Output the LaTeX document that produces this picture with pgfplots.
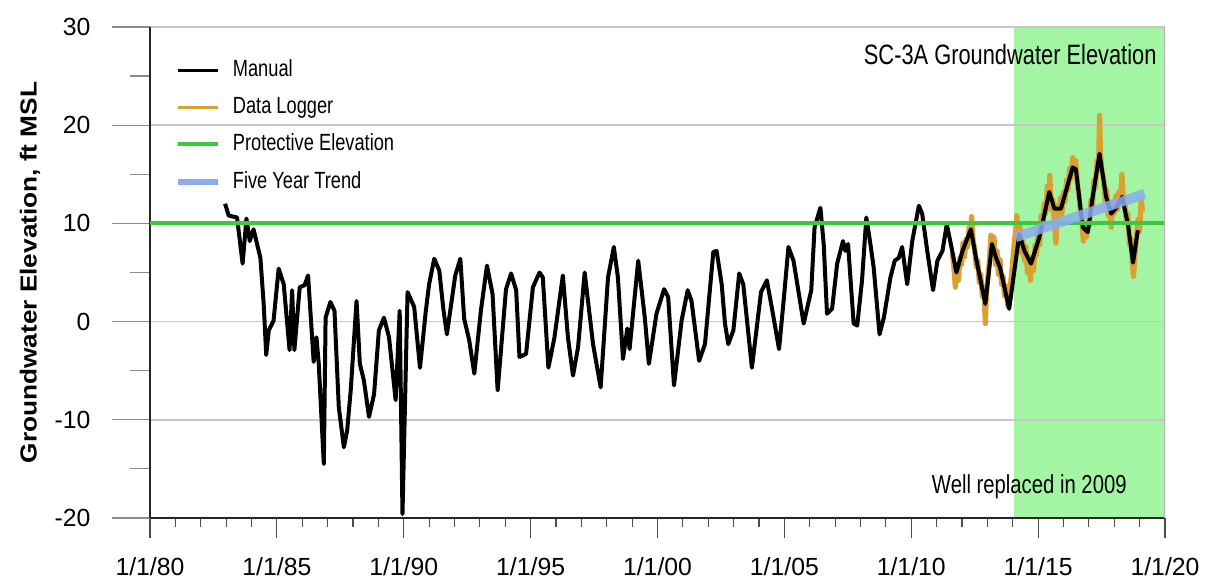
\documentclass[border=0pt]{standalone}
\usepackage{pgfplots}
\pgfplotsset{compat=1.18}
\usepackage{fontspec}
\setmainfont{Liberation Sans}
\newfontfamily\narrowfont{Liberation Sans}[FakeStretch=0.78]
\newfontfamily\ylabfont{Liberation Sans}[FakeStretch=1.13]
\definecolor{regiongreen}{RGB}{163,245,163}
\definecolor{protgreen}{RGB}{60,200,60}
\definecolor{loggerorange}{RGB}{218,160,50}
\definecolor{trendblue}{RGB}{140,170,240}
\begin{document}
\begin{tikzpicture}
\begin{axis}[
  set layers,
  at={(0,0)}, anchor=south west,
  scale only axis, width=507.5pt, height=245.5pt,
  xmin=1980, xmax=2020, ymin=-20, ymax=30,
  axis x line*=bottom, axis y line*=left,
  axis line style={black!85, line width=0.6pt},
  xtick={1980,1985,...,2020},
  xticklabels={1/1/80,1/1/85,1/1/90,1/1/95,1/1/00,1/1/05,1/1/10,1/1/15,1/1/20},
  minor x tick num=4,
  ytick={-20,-10,...,30},
  minor y tick num=1,
  tick align=outside,
  xtick style={/pgfplots/major tick length=10pt, /pgfplots/minor tick length=4.5pt, black!70, line width=0.6pt},
  ytick style={/pgfplots/major tick length=19pt, /pgfplots/minor tick length=10pt, black!45, line width=0.6pt},
  ymajorgrids, major grid style={black!22, line width=0.8pt},
  ticklabel style={font=\fontsize{12.4}{14}\selectfont},
  xticklabel style={yshift=-12pt},
  yticklabel style={anchor=east, xshift=-22pt},
  /pgf/number format/assume math mode=true,
  ylabel={Groundwater Elevation, ft MSL},
  every axis y label/.style={at={(rel axis cs:-0.1182,0.5)}, rotate=90, anchor=center, font=\ylabfont\bfseries\fontsize{11.6}{13}\selectfont},
  legend style={at={(0.0245,0.936)}, anchor=north west, draw=none, fill=none, inner sep=0pt, outer sep=0pt,
    font=\narrowfont\fontsize{11.7}{13}\selectfont, row sep=7pt, column sep=6pt,
    nodes={inner sep=0pt, text height=9pt, text depth=2.6pt}},
  legend cell align=left,
  legend image code/.code={\draw[#1] (0pt,0pt) -- (20pt,0pt);},
]
\addlegendimage{black, line width=1.5pt}
\addlegendentry{Manual}
\addlegendimage{loggerorange, line width=1.5pt}
\addlegendentry{Data Logger}
\addlegendimage{protgreen, line width=2pt}
\addlegendentry{Protective Elevation}
\addlegendimage{trendblue, line width=3pt}
\addlegendentry{Five Year Trend}

% replaced-well region
\addplot[fill=regiongreen, draw=none, forget plot, on layer=axis background]
  coordinates {(2014.03,-20) (2020,-20) (2020,30) (2014.03,30)} -- cycle;

% data logger
\addplot[loggerorange, line width=2.6pt, line join=round, forget plot] coordinates {
(2011.62,7.0) (2011.68,5.5) (2011.74,3.5) (2011.80,5.8) (2011.86,4.2) (2011.92,6.5) (2011.98,5.8)
(2012.04,8.0) (2012.10,6.6) (2012.16,8.4) (2012.22,7.6) (2012.28,9.6) (2012.34,8.6) (2012.38,10.7)
(2012.44,8.2) (2012.50,7.4) (2012.56,5.6) (2012.62,6.2) (2012.68,4.0) (2012.74,4.8) (2012.80,2.6)
(2012.86,3.4) (2012.92,-0.2) (2012.96,2.8) (2013.02,4.5) (2013.08,6.2) (2013.14,8.8) (2013.20,7.0)
(2013.26,8.6) (2013.32,5.8) (2013.38,7.2) (2013.44,4.8) (2013.50,6.3) (2013.56,3.8) (2013.62,4.6)
(2013.68,2.6) (2013.74,3.6) (2013.80,1.6) (2013.86,2.2) (2013.92,4.0) (2013.98,5.6) (2014.04,7.4)
(2014.10,9.0) (2014.16,10.8) (2014.22,8.2) (2014.28,9.8) (2014.34,7.0) (2014.40,8.2) (2014.46,6.2)
(2014.52,7.6) (2014.58,5.0) (2014.64,6.6) (2014.70,4.2) (2014.76,6.6) (2014.82,5.2) (2014.88,7.8)
(2014.94,6.8) (2015.00,9.4) (2015.06,7.8) (2015.12,10.8) (2015.18,9.6) (2015.24,12.0) (2015.30,11.0)
(2015.36,13.8) (2015.42,12.4) (2015.46,14.9) (2015.52,11.4) (2015.58,12.4) (2015.64,10.2) (2015.70,8.0)
(2015.76,11.8) (2015.82,10.6) (2015.88,12.6) (2015.94,11.0) (2016.00,13.2) (2016.06,12.2) (2016.12,14.4)
(2016.18,13.4) (2016.24,15.6) (2016.30,14.6) (2016.36,16.7) (2016.42,15.0) (2016.48,16.4) (2016.54,14.2)
(2016.60,13.0) (2016.66,11.4) (2016.72,10.4) (2016.78,8.2) (2016.84,9.8) (2016.90,8.6) (2016.96,10.2)
(2017.02,9.8) (2017.08,12.4) (2017.14,11.6) (2017.20,14.4) (2017.26,13.6) (2017.32,16.4) (2017.38,15.6)
(2017.42,21.0) (2017.46,17.0) (2017.52,15.2) (2017.58,14.6) (2017.64,12.2) (2017.70,13.4) (2017.76,10.8)
(2017.82,12.2) (2017.88,9.6) (2017.94,11.8) (2018.00,11.0) (2018.06,12.8) (2018.12,11.4) (2018.18,13.2)
(2018.24,12.2) (2018.30,15.0) (2018.36,12.4) (2018.42,11.8) (2018.48,10.2) (2018.54,11.0) (2018.60,7.8)
(2018.66,8.4) (2018.72,5.6) (2018.76,4.6) (2018.82,6.8) (2018.88,8.8) (2018.94,10.4) (2019.00,9.2)
(2019.06,12.4) (2019.12,11.2)
};

% manual
\addplot[black, line width=2pt, line join=round, forget plot] coordinates {
(1982.96,12.0) (1983.10,10.8) (1983.43,10.6) (1983.65,5.9) (1983.80,10.5) (1983.93,8.2) (1984.08,9.4)
(1984.35,6.5) (1984.48,1.8) (1984.58,-3.4) (1984.68,-0.9) (1984.87,0.1) (1985.07,5.4) (1985.27,3.8)
(1985.50,-2.9) (1985.60,3.2) (1985.69,-2.9) (1985.90,3.5) (1986.09,3.7) (1986.23,4.7) (1986.45,-4.1)
(1986.56,-1.6) (1986.65,-4.3) (1986.85,-14.5) (1986.92,0.4) (1987.11,2.0) (1987.27,1.1) (1987.44,-8.7)
(1987.64,-12.8) (1987.77,-11.1) (1987.91,-7.0) (1988.14,2.1) (1988.27,-4.3) (1988.43,-6.0) (1988.63,-9.7)
(1988.83,-7.4) (1989.02,-0.9) (1989.22,0.4) (1989.42,-1.6) (1989.68,-8.0) (1989.84,1.1) (1989.95,-19.6)
(1990.15,3.0) (1990.41,1.5) (1990.64,-4.7) (1990.87,1.1) (1991.00,3.8) (1991.20,6.4) (1991.40,5.2)
(1991.56,1.3) (1991.70,-1.3) (1991.86,1.6) (1992.03,4.7) (1992.23,6.4) (1992.38,0.3) (1992.58,-1.9)
(1992.78,-5.3) (1993.04,1.1) (1993.28,5.7) (1993.50,2.8) (1993.70,-7.0) (1994.03,3.3) (1994.23,4.9)
(1994.43,3.2) (1994.56,-3.6) (1994.82,-3.3) (1995.09,3.5) (1995.35,5.0) (1995.48,4.5) (1995.70,-4.7)
(1995.94,-1.6) (1996.27,4.7) (1996.47,-1.6) (1996.67,-5.5) (1996.87,-2.6) (1997.13,5.0) (1997.46,-2.3)
(1997.76,-6.7) (1998.05,4.5) (1998.28,7.6) (1998.44,4.5) (1998.64,-3.8) (1998.81,-0.7) (1998.90,-2.8)
(1999.24,6.2) (1999.50,0.4) (1999.66,-4.3) (1999.96,0.8) (2000.26,3.3) (2000.42,2.5) (2000.65,-6.5)
(2000.95,0.1) (2001.19,3.2) (2001.34,2.1) (2001.64,-4.0) (2001.87,-2.3) (2002.20,7.1) (2002.33,7.2)
(2002.53,3.8) (2002.66,-0.2) (2002.79,-2.3) (2002.99,-0.9) (2003.22,4.9) (2003.38,3.8) (2003.72,-4.7)
(2004.08,3.0) (2004.31,4.2) (2004.50,1.5) (2004.79,-2.8) (2004.97,2.1) (2005.16,7.6) (2005.36,6.2)
(2005.76,-0.2) (2006.06,3.2) (2006.19,9.6) (2006.42,11.6) (2006.55,7.9) (2006.68,0.8) (2006.88,1.3)
(2007.08,5.9) (2007.31,8.2) (2007.40,7.2) (2007.51,7.9) (2007.73,-0.2) (2007.87,-0.4) (2008.06,4.2)
(2008.23,10.6) (2008.39,7.9) (2008.52,5.5) (2008.75,-1.3) (2008.92,0.4) (2009.18,4.5) (2009.35,6.2)
(2009.51,6.5) (2009.64,7.6) (2009.84,3.8) (2010.04,8.2) (2010.30,11.8) (2010.43,11.0) (2010.63,7.2)
(2010.86,3.2) (2011.03,6.2) (2011.23,7.2) (2011.40,9.9) (2011.56,7.9) (2011.78,5.0) (2012.02,7.2)
(2012.35,9.4) (2012.55,6.5) (2012.92,1.8) (2013.18,7.9) (2013.34,6.5) (2013.50,5.5) (2013.86,1.3)
(2014.26,8.9) (2014.46,7.2) (2014.72,5.9) (2015.05,8.6) (2015.44,13.2) (2015.64,11.5) (2015.90,11.5)
(2016.36,15.7) (2016.49,15.5) (2016.76,9.6) (2016.96,9.1) (2017.15,12.7) (2017.42,17.1) (2017.68,12.7)
(2017.88,11.0) (2018.08,11.6) (2018.31,12.7) (2018.54,9.9) (2018.74,6.0) (2018.93,9.3)
};

% protective elevation
\addplot[protgreen, line width=2pt, forget plot] coordinates {(1980,10) (2020,10)};

% five year trend
\addplot[trendblue, line width=5pt, opacity=0.85, forget plot] coordinates {(2014.12,8.6) (2019.2,13.0)};

\draw[black!30, line width=0.8pt] (rel axis cs:1,0) -- (rel axis cs:1,1);

\node[anchor=base east, inner sep=0pt, font=\narrowfont\fontsize{14}{16}\selectfont]
  at (rel axis cs:0.992,0.9226) {SC-3A Groundwater Elevation};
\node[anchor=base east, inner sep=0pt, font=\narrowfont\fontsize{13}{15}\selectfont]
  at (rel axis cs:0.9626,0.049) {Well replaced in 2009};
\end{axis}
\pgfresetboundingbox
\path[use as bounding box] (-75pt,-32.5pt) rectangle (532.5pt,259pt);
\end{tikzpicture}
\end{document}
